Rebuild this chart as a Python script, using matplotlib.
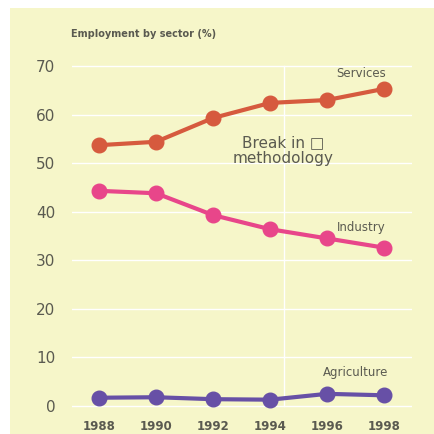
import matplotlib.pyplot as plt

years = [1988, 1990, 1992, 1994, 1996, 1998]
services = [53.7, 54.4, 59.3, 62.4, 63.0, 65.3]
industry = [44.3, 43.8, 39.3, 36.4, 34.5, 32.6]
agriculture = [1.7, 1.8, 1.4, 1.3, 2.5, 2.2]
yticks = [0, 10, 20, 30, 40, 50, 60, 70]

bg = "#f6f6c9"
txt = "#5a5a50"

fig = plt.figure(figsize=(4.34, 4.34), dpi=100)
fig.patch.set_facecolor("white")
# yellow panel
fig.patches.append(plt.Rectangle((10 / 434, 0), 1, 1 - 8 / 434, transform=fig.transFigure,
                                 facecolor=bg, edgecolor="none", zorder=-5))

# axes: x 72..412 px, y 56..416 px
ax = fig.add_axes([72 / 434, (434 - 415.7) / 434, 340 / 434, 359.4 / 434])
ax.set_zorder(2)
ax.set_facecolor("none")
ax.set_xlim(1987.05, 1998.98)
ax.set_ylim(-2, 72)

for y in yticks:
    ax.axhline(y, color="white", lw=1, zorder=1)
ax.plot([1994.5, 1994.5], [0, 70], color="white", lw=1, zorder=1)

lines = [(services, "#d65a3e"), (industry, "#e8468a"), (agriculture, "#6750a6")]
for vals, col in lines:
    ax.plot(years, vals, color=col, lw=3, marker="o", markersize=10.5,
            clip_on=False, zorder=3)

for s in ax.spines.values():
    s.set_visible(False)
ax.tick_params(length=0)
ax.set_yticks(yticks)
ax.set_yticklabels([str(v) for v in yticks], fontsize=11, color=txt)
ax.set_xticks(years)
ax.set_xticklabels([str(v) for v in years], fontsize=8.5, fontweight="bold", color=txt)
ax.tick_params(axis="y", pad=12)
ax.tick_params(axis="x", pad=3)

ax.text(1997.2, 68.5, "Services", fontsize=8.5, color=txt, ha="center", va="center")
ax.text(1997.2, 36.7, "Industry", fontsize=8.5, color=txt, ha="center", va="center")
ax.text(1997.0, 6.9, "Agriculture", fontsize=8.5, color=txt, ha="center", va="center")
ax.text(1994.45, 52.6, "Break in \u25a1\nmethodology", fontsize=11, color=txt,
        ha="center", va="center", linespacing=1.0)

fig.text(71 / 434, 1 - 34 / 434, "Employment by sector (%)", fontsize=7,
         fontweight="bold", color=txt, ha="left", va="center")

fig.savefig("out.png", dpi=100, facecolor=fig.get_facecolor())
